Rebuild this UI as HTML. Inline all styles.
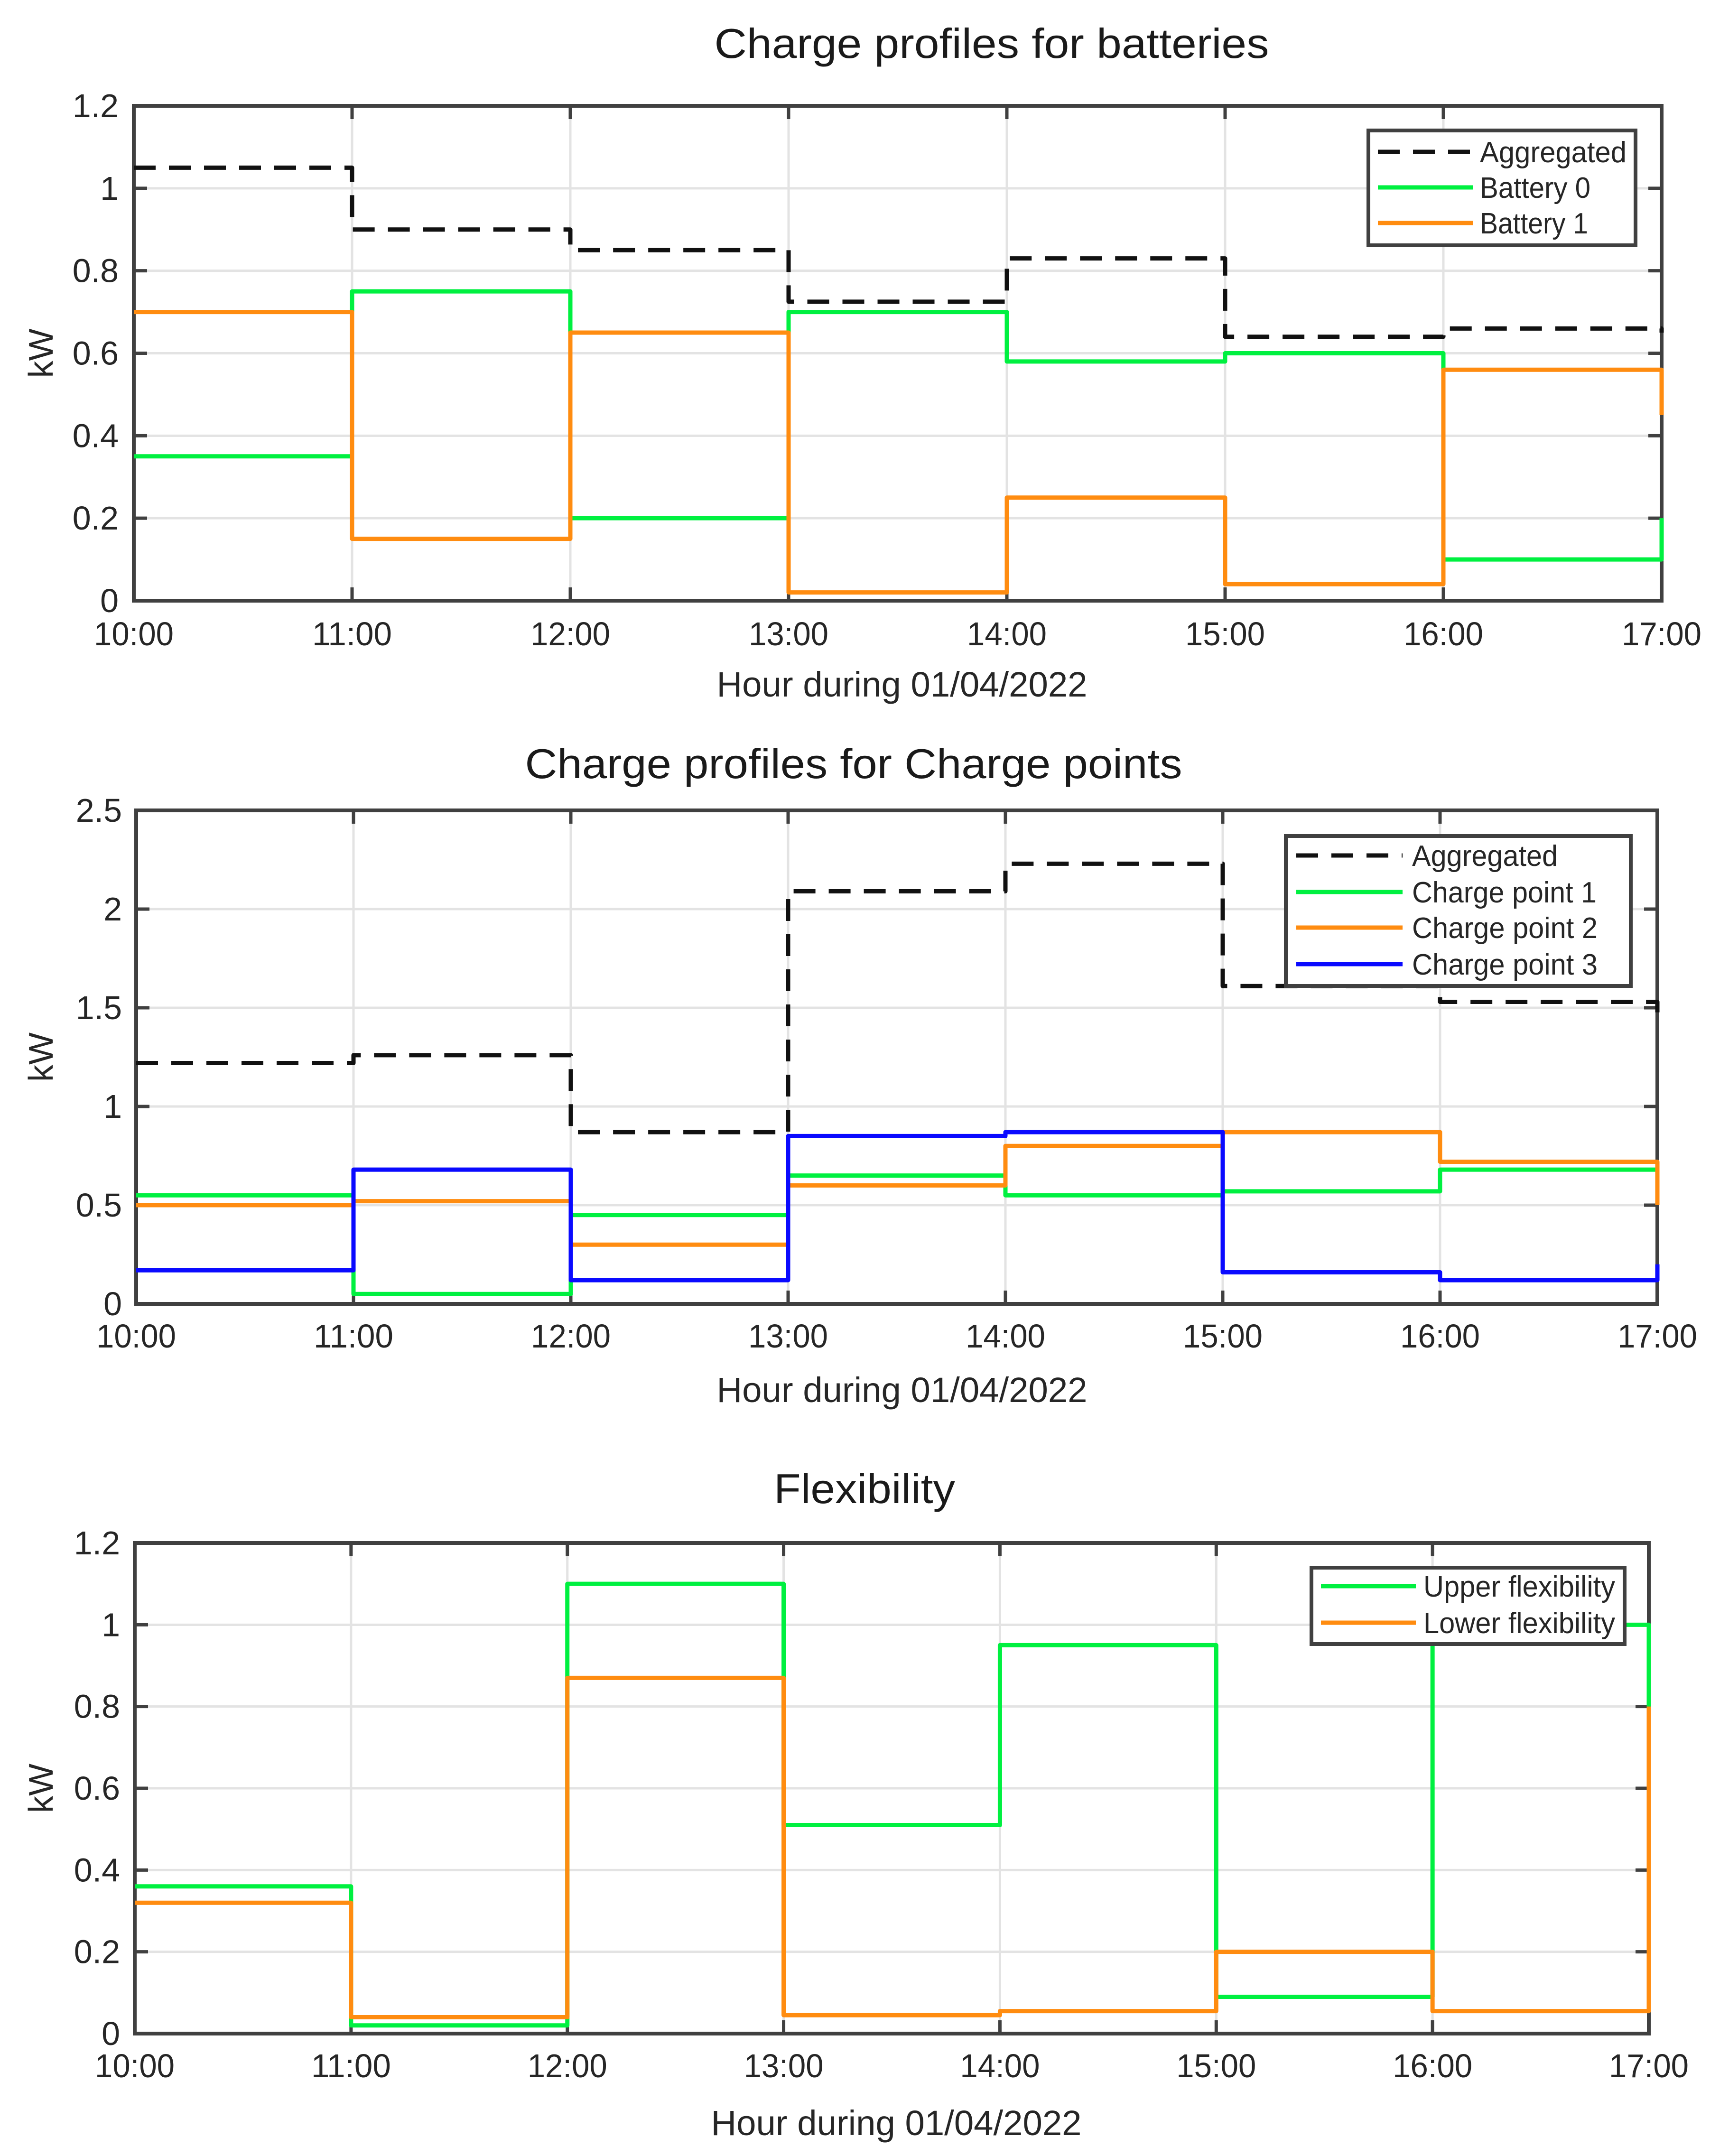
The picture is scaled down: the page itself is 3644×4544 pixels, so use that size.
<!DOCTYPE html>
<html><head><meta charset="utf-8"><style>
html,body{margin:0;padding:0;background:#fff}
svg{display:block;font-family:"Liberation Sans",Arial,sans-serif}
</style></head><body>
<svg id="fig" width="3644" height="4544" viewBox="0 0 3644 4544" xmlns="http://www.w3.org/2000/svg"></svg>
<script>
// x categories (hour boundaries)
const hourLabels = ["10:00","11:00","12:00","13:00","14:00","15:00","16:00","17:00"];
// Chart 1: batteries (8 values, last = end step at 17:00)
const bAgg = [1.05,0.90,0.85,0.725,0.83,0.64,0.66,0.65];
const bat0 = [0.35,0.75,0.20,0.70,0.58,0.60,0.10,0.20];
const bat1 = [0.70,0.15,0.65,0.02,0.25,0.04,0.56,0.45];
const yTicks1 = [0,0.2,0.4,0.6,0.8,1,1.2];
const yTickLabels1 = ["0","0.2","0.4","0.6","0.8","1","1.2"];
// Chart 2: charge points
const cAgg = [1.22,1.26,0.87,2.09,2.23,1.61,1.53,1.47];
const cp1 = [0.55,0.05,0.45,0.65,0.55,0.57,0.68,0.68];
const cp2 = [0.50,0.52,0.30,0.60,0.80,0.87,0.72,0.50];
const cp3 = [0.17,0.68,0.12,0.85,0.87,0.16,0.12,0.20];
const yTicks2 = [0,0.5,1,1.5,2,2.5];
const yTickLabels2 = ["0","0.5","1","1.5","2","2.5"];
// Chart 3: flexibility
const upperFlex = [0.36,0.02,1.10,0.51,0.95,0.09,1.00,0.80];
const lowerFlex = [0.32,0.04,0.87,0.045,0.055,0.20,0.055,0.80];
const yTicks3 = [0,0.2,0.4,0.6,0.8,1,1.2];
const yTickLabels3 = ["0","0.2","0.4","0.6","0.8","1","1.2"];

const NS="http://www.w3.org/2000/svg";
const svg=document.getElementById('fig');
function mk(tag,attrs,parent){const e=document.createElementNS(NS,tag);for(const k in attrs)e.setAttribute(k,attrs[k]);(parent||svg).appendChild(e);return e;}
const GREEN="#00f040",ORANGE="#ff8c10",BLUE="#0a0aff",AX="#404040";

function chart(cfg){
  const g=mk('g',{});
  
  
  const {x0,x1,y0,y1,ymax}=cfg;
  const xs=i=>x0+(x1-x0)*i/(hourLabels.length-1);
  const ys=v=>y1-(y1-y0)*v/ymax;
  hourLabels.forEach((l,i)=>{ if(i>0&&i<hourLabels.length-1){const gl=mk('line',{x1:xs(i),x2:xs(i),y1:y0,y2:y1,stroke:'#e3e3e3','stroke-width':5},g);
    }});
  cfg.yTicks.forEach((v,i)=>{ if(i>0&&i<cfg.yTicks.length-1){const gl=mk('line',{x1:x0,x2:x1,y1:ys(v),y2:ys(v),stroke:'#e3e3e3','stroke-width':5},g);
    }});
  const box=mk('rect',{x:x0,y:y0,width:x1-x0,height:y1-y0,fill:'none',stroke:AX,'stroke-width':8},g);
  
  hourLabels.forEach((l,i)=>{
    mk('line',{x1:xs(i),x2:xs(i),y1:y1,y2:y1-28,stroke:AX,'stroke-width':7},g);
    mk('line',{x1:xs(i),x2:xs(i),y1:y0,y2:y0+28,stroke:AX,'stroke-width':7},g);
    const t=mk('text',{x:xs(i),y:cfg.xlabY,'text-anchor':'middle','font-size':70,fill:'#262626',textLength:168,lengthAdjust:'spacingAndGlyphs'},g);
    t.textContent=l;
    
  });
  cfg.yTicks.forEach((v,i)=>{
    mk('line',{x1:x0,x2:x0+28,y1:ys(v),y2:ys(v),stroke:AX,'stroke-width':7},g);
    mk('line',{x1:x1,x2:x1-28,y1:ys(v),y2:ys(v),stroke:AX,'stroke-width':7},g);
    const t=mk('text',{x:cfg.ylabX,y:ys(v)+24,'text-anchor':'end','font-size':70,fill:'#262626'},g);
    t.textContent=cfg.yTickLabels[i];
    
  });
  cfg.series.forEach(s=>{
    let d='';
    for(let i=0;i<s.vals.length-1;i++){
      d+=(i===0?'M':'L')+xs(i)+' '+ys(s.vals[i])+' L'+xs(i+1)+' '+ys(s.vals[i]);
    }
    d+=' L'+xs(s.vals.length-1)+' '+ys(s.vals[s.vals.length-1]);
    const p=mk('path',{d:d,fill:'none',stroke:s.color,'stroke-width':9,'stroke-linejoin':'round'},g);
    if(s.dash)p.setAttribute('stroke-dasharray','46 28');
    
    
  });
  const tt=mk('text',{x:cfg.titleX,y:cfg.titleY,'text-anchor':'middle','font-size':88,fill:'#1a1a1a',textLength:cfg.titleW,lengthAdjust:'spacingAndGlyphs'},g);
  tt.textContent=cfg.title;
  const xl=mk('text',{x:cfg.xtX,y:cfg.xtY,'text-anchor':'middle','font-size':74,fill:'#262626',textLength:781,lengthAdjust:'spacingAndGlyphs'},g);
  xl.textContent='Hour during 01/04/2022';
  const yc=(y0+y1)/2;
  const yl=mk('text',{x:0,y:0,transform:'translate(111,'+yc+') rotate(-90)','text-anchor':'middle','font-size':72,fill:'#262626'},g);
  yl.textContent='kW';
  const L=cfg.legend;
  const lg=mk('g',{},g);
  
  mk('rect',{x:L.x,y:L.y,width:L.w,height:L.h,fill:'#fff',stroke:AX,'stroke-width':8},lg);
  cfg.series.forEach((s,i)=>{
    const ey=L.rows[i];
    const ln=mk('line',{x1:L.lx0,x2:L.lx1,y1:ey,y2:ey,stroke:s.color,'stroke-width':9},lg);
    if(s.dash)ln.setAttribute('stroke-dasharray','46 28');
    const t=mk('text',{x:L.tx,y:ey+22,'font-size':62,fill:'#262626',textLength:s.tw,lengthAdjust:'spacingAndGlyphs'},lg);
    t.textContent=s.label;
    
  });
}

chart({name:'battery-chart',x0:282,x1:3502,y0:223,y1:1266,ymax:1.2,yTicks:yTicks1,yTickLabels:yTickLabels1,
  xlabY:1360,ylabX:250,title:'Charge profiles for batteries',titleX:2090,titleY:122,titleW:1169,xtX:1901,xtY:1468,
  series:[{id:'aggregated',label:'Aggregated',vals:bAgg,color:'#111',dash:true,tw:309},
          {id:'battery-0',label:'Battery 0',vals:bat0,color:GREEN,tw:233},
          {id:'battery-1',label:'Battery 1',vals:bat1,color:ORANGE,tw:228}],
  legend:{x:2884,y:275,w:563,h:242,rows:[320,395,470],lx0:2904,lx1:3105,tx:3119}});

chart({name:'charge-point-chart',x0:287,x1:3493,y0:1708,y1:2748,ymax:2.5,yTicks:yTicks2,yTickLabels:yTickLabels2,
  xlabY:2840,ylabX:257,title:'Charge profiles for Charge points',titleX:1799,titleY:1640,titleW:1385,xtX:1901,xtY:2955,
  series:[{id:'aggregated',label:'Aggregated',vals:cAgg,color:'#111',dash:true,tw:307},
          {id:'charge-point-1',label:'Charge point 1',vals:cp1,color:GREEN,tw:389},
          {id:'charge-point-2',label:'Charge point 2',vals:cp2,color:ORANGE,tw:391},
          {id:'charge-point-3',label:'Charge point 3',vals:cp3,color:BLUE,tw:391}],
  legend:{x:2710,y:1762,w:727,h:316,rows:[1803,1880,1955,2032],lx0:2732,lx1:2956,tx:2976}});

chart({name:'flexibility-chart',x0:284,x1:3475,y0:3252,y1:4286,ymax:1.2,yTicks:yTicks3,yTickLabels:yTickLabels3,
  xlabY:4378,ylabX:253,title:'Flexibility',titleX:1822,titleY:3168,titleW:382,xtX:1889,xtY:4500,
  series:[{id:'upper-flexibility',label:'Upper flexibility',vals:upperFlex,color:GREEN,tw:404},
          {id:'lower-flexibility',label:'Lower flexibility',vals:lowerFlex,color:ORANGE,tw:404}],
  legend:{x:2764,y:3304,w:660,h:161,rows:[3343,3420],lx0:2784,lx1:2984,tx:3000}});
</script>
</body></html>
